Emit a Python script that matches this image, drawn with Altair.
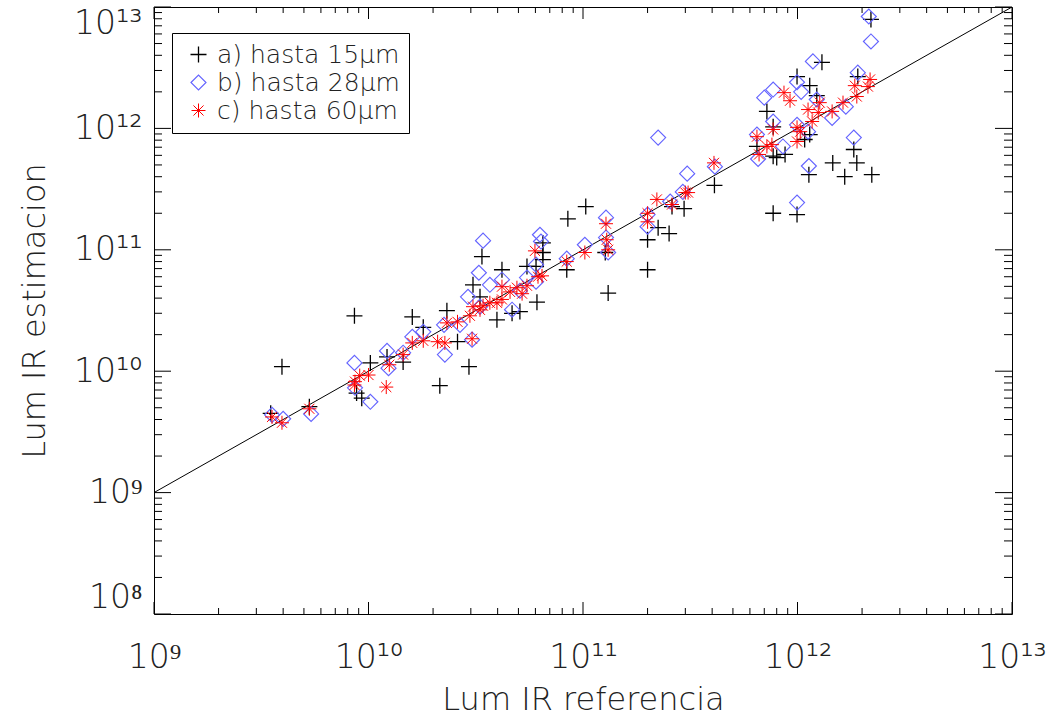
import json
import altair as alt
import pandas as pd

# ---------------- data ----------------
series_names = ["a) hasta 15μm", "b) hasta 28μm", "c) hasta 60μm"]
series_colors = ["#000000", "#6464ff", "#ff0000"]

# (Lum IR referencia, Lum IR estimacion)
a_points = [
    (3.5e9, 4.5e9), (3.95e9, 1.09e10), (5.3e9, 5.1e9), (8.6e9, 2.86e10), (8.8e9, 6.6e9),
    (9.3e9, 6.0e9), (1.02e10, 1.17e10), (1.22e10, 1.31e10), (1.45e10, 1.19e10), (1.6e10, 2.8e10),
    (1.8e10, 2.3e10), (2.15e10, 7.6e9), (2.32e10, 3.15e10), (2.6e10, 1.75e10), (2.94e10, 1.09e10),
    (3.07e10, 5.15e10), (3.31e10, 4.1e10), (3.38e10, 8.8e10), (3.97e10, 2.65e10), (4.19e10, 6.85e10),
    (4.67e10, 3.0e10), (5.08e10, 3.1e10), (5.48e10, 7.3e10), (6.04e10, 7.3e10), (6.1e10, 3.7e10),
    (6.5e10, 1.14e11), (6.5e10, 9.5e10), (6.5e10, 8.3e10), (8.4e10, 6.85e10), (8.5e10, 1.8e11),
    (1.03e11, 2.27e11), (1.27e11, 9.5e10), (1.31e11, 4.4e10), (2.0e11, 1.21e11), (2.0e11, 6.85e10),
    (2.24e11, 1.52e11), (2.52e11, 1.36e11), (2.6e11, 2.27e11), (2.96e11, 2.18e11), (4.1e11, 3.4e11),
    (6.47e11, 7.1e11), (7.2e11, 1.38e12), (7.7e11, 1.03e12), (7.7e11, 5.9e11), (8.0e11, 5.75e11),
    (8.75e11, 6.1e11), (7.7e11, 2.0e11), (9.95e11, 1.95e11), (9.95e11, 2.67e12), (1.08e12, 8.1e11),
    (1.13e12, 4.16e11), (1.14e12, 8.9e11), (1.14e12, 2.25e12), (1.23e12, 1.86e12), (1.3e12, 3.5e12),
    (1.46e12, 5.2e11), (1.66e12, 4.0e11), (1.83e12, 6.7e11), (1.89e12, 5.2e11), (1.91e12, 2.67e12),
    (2.2e12, 7.9e12), (2.22e12, 4.16e11),
]
b_points = [
    (3.55e9, 4.37e9), (4.0e9, 4.05e9), (5.4e9, 4.45e9), (8.6e9, 1.17e10), (8.65e9, 7.3e9),
    (1.02e10, 5.6e9), (1.22e10, 1.47e10), (1.24e10, 1.06e10), (1.45e10, 1.42e10), (1.6e10, 1.92e10),
    (1.8e10, 2.11e10), (2.25e10, 2.41e10), (2.27e10, 1.37e10), (2.67e10, 2.41e10), (2.91e10, 4.1e10),
    (3.04e10, 1.82e10), (3.27e10, 6.47e10), (3.31e10, 3.4e10), (3.42e10, 1.19e11), (3.68e10, 5.15e10),
    (4.19e10, 5.67e10), (4.67e10, 3.21e10), (5.08e10, 4.6e10), (5.48e10, 5.9e10), (6.04e10, 7.54e10),
    (6.04e10, 5.46e10), (6.3e10, 1.33e11), (6.37e10, 1.17e11), (8.4e10, 8.45e10), (1.02e11, 1.1e11),
    (1.28e11, 1.84e11), (1.28e11, 1.26e11), (1.31e11, 9.5e10), (2.0e11, 1.55e11), (2.0e11, 1.95e11),
    (2.24e11, 8.4e11), (2.55e11, 2.5e11), (2.92e11, 3.0e11), (3.06e11, 4.24e11), (4.12e11, 4.84e11),
    (6.47e11, 8.9e11), (6.55e11, 5.6e11), (7.0e11, 1.79e12), (7.7e11, 2.09e12), (7.7e11, 1.14e12),
    (8.55e11, 7.1e11), (9.95e11, 2.4e12), (9.95e11, 1.07e12), (9.95e11, 2.45e11), (1.04e12, 2.0e12),
    (1.12e12, 9.4e11), (1.13e12, 4.9e11), (1.18e12, 3.56e12), (1.23e12, 1.73e12), (1.45e12, 1.22e12),
    (1.68e12, 1.51e12), (1.83e12, 8.4e11), (1.91e12, 2.88e12), (2.15e12, 8.35e12), (2.2e12, 5.2e12),
]
c_points = [
    (3.55e9, 4.2e9), (3.95e9, 3.76e9), (5.3e9, 4.9e9), (8.6e9, 7.7e9), (8.65e9, 8.2e9),
    (9.1e9, 9.2e9), (1.0e10, 9.3e9), (1.21e10, 7.4e9), (1.25e10, 1.13e10), (1.45e10, 1.37e10),
    (1.6e10, 1.71e10), (1.8e10, 1.78e10), (2.1e10, 1.75e10), (2.27e10, 1.71e10), (2.32e10, 2.5e10),
    (2.6e10, 2.55e10), (2.97e10, 2.86e10), (3.04e10, 1.85e10), (3.07e10, 3.4e10), (3.31e10, 3.2e10),
    (3.42e10, 3.46e10), (3.68e10, 3.66e10), (3.97e10, 3.66e10), (4.19e10, 4.97e10), (4.19e10, 3.9e10),
    (4.57e10, 4.5e10), (4.92e10, 4.87e10), (5.2e10, 4.35e10), (5.48e10, 5.06e10), (5.97e10, 9.8e10),
    (6.17e10, 6.0e10), (6.44e10, 6.1e10), (8.4e10, 8.0e10), (1.02e11, 9.5e10), (1.28e11, 1.64e11),
    (1.29e11, 1.21e11), (1.31e11, 1.0e11), (2.0e11, 2.0e11), (2.0e11, 1.7e11), (2.21e11, 2.6e11),
    (2.6e11, 2.36e11), (3.0e11, 2.96e11), (3.09e11, 2.96e11), (4.08e11, 5.2e11), (6.47e11, 8.55e11),
    (6.62e11, 6.1e11), (7.2e11, 7.1e11), (7.6e11, 7.35e11), (7.7e11, 9.8e11), (8.65e11, 1.97e12),
    (9.23e11, 1.69e12), (9.95e11, 1.02e12), (1.03e12, 9.4e11), (9.95e11, 7.8e11), (1.17e12, 1.14e12),
    (1.12e12, 1.43e12), (1.25e12, 1.35e12), (1.27e12, 1.63e12), (1.45e12, 1.38e12), (1.63e12, 1.63e12),
    (1.85e12, 2.25e12), (1.89e12, 1.83e12), (2.13e12, 2.21e12), (2.18e12, 2.53e12),
]

# one-to-one line
line_vals = [1e9, 1e13]

# axes
x_domain = [1e9, 1e13]
y_domain = [1e8, 1e13]
x_major = [1e9, 1e10, 1e11, 1e12, 1e13]
y_major = [1e8, 1e9, 1e10, 1e11, 1e12, 1e13]
x_tick_labels = ["10⁹", "10¹⁰", "10¹¹", "10¹²", "10¹³"]
y_tick_labels = ["10⁸", "10⁹", "10¹⁰", "10¹¹", "10¹²", "10¹³"]
minor_mult = [2, 3, 4, 5, 6, 7, 8, 9]
x_minor = [m * d for d in x_major[:-1] for m in minor_mult]
y_minor = [m * d for d in y_major[:-1] for m in minor_mult]

# ---------------- chart ----------------
W, H = 858, 607
FONT = "DejaVu Sans"
WEIGHT = 200
TXT = "#222222"

rows = []
for name, pts in zip(series_names, [a_points, b_points, c_points]):
    for xv, yv in pts:
        rows.append({"ref": xv, "est": yv, "serie": name})
df = pd.DataFrame(rows)

xscale = alt.Scale(type="log", domain=x_domain, nice=False)
yscale = alt.Scale(type="log", domain=y_domain, nice=False)

plus_path = "M-1,0H1M0,-1V1"
star_path = "M-1,0H1M0,-1V1M-0.72,-0.72L0.72,0.72M-0.72,0.72L0.72,-0.72"

x_label_expr = json.dumps(x_tick_labels, ensure_ascii=False) + "[round(log(datum.value)/LN10) - 9]"
y_label_expr = json.dumps(y_tick_labels, ensure_ascii=False) + "[round(log(datum.value)/LN10) - 8]"

xaxis = alt.Axis(
    values=x_major, labelExpr=x_label_expr, ticks=False, tickSize=0, domain=False, grid=False,
    labelFont=FONT, labelFontSize=33, labelFontWeight=WEIGHT, labelColor=TXT,
    labelBaseline="alphabetic", labelPadding=53, labelFlush=False,
    title="Lum IR referencia", titleFont=FONT, titleFontSize=32, titleFontWeight=WEIGHT,
    titleColor=TXT, titleX=W / 2, titleY=95, titleBaseline="alphabetic", titleAlign="center",
)
yaxis = alt.Axis(
    values=y_major, labelExpr=y_label_expr, ticks=False, tickSize=0, domain=False, grid=False,
    labelFont=FONT, labelFontSize=33, labelFontWeight=WEIGHT, labelColor=TXT,
    labelPadding=12, labelFlush=True, labelFlushOffset=0,
    title="Lum IR estimacion", titleFont=FONT, titleFontSize=32, titleFontWeight=WEIGHT,
    titleColor=TXT, titleX=-110, titleY=H / 2, titleAngle=270, titleBaseline="alphabetic",
    titleAlign="center",
)

legend = alt.Legend(
    title=None, orient="none", legendX=18, legendY=26,
    strokeColor="black", fillColor="white", padding=9, cornerRadius=0,
    labelFont=FONT, labelFontSize=25, labelFontWeight=WEIGHT, labelColor=TXT, labelLimit=400,
    symbolSize=200, symbolStrokeWidth=1.3, rowPadding=2, symbolOffset=5, labelOffset=6,
)

points = alt.Chart(df).mark_point(filled=False, opacity=1).encode(
    x=alt.X("ref:Q", scale=xscale, axis=xaxis),
    y=alt.Y("est:Q", scale=yscale, axis=yaxis),
    color=alt.Color("serie:N", scale=alt.Scale(domain=series_names, range=series_colors), legend=legend),
    shape=alt.Shape("serie:N", scale=alt.Scale(domain=series_names, range=[plus_path, "diamond", star_path]), legend=legend),
    size=alt.Size("serie:N", scale=alt.Scale(domain=series_names, range=[256, 196, 200]), legend=None),
    strokeWidth=alt.StrokeWidth("serie:N", scale=alt.Scale(domain=series_names, range=[1.3, 1.0, 1.4]), legend=None),
)

line = alt.Chart(pd.DataFrame({"ref": line_vals, "est": line_vals})).mark_line(
    color="black", strokeWidth=1, clip=True
).encode(
    x=alt.X("ref:Q", scale=xscale, axis=xaxis),
    y=alt.Y("est:Q", scale=yscale, axis=yaxis),
)


def tick_layer(vals, side, length):
    d = pd.DataFrame({"v": vals})
    if side == "left":
        enc = dict(y=alt.Y("v:Q", scale=yscale, axis=yaxis), x=alt.value(0), x2=alt.value(length))
    elif side == "right":
        enc = dict(y=alt.Y("v:Q", scale=yscale, axis=yaxis), x=alt.value(W - length), x2=alt.value(W))
    elif side == "bottom":
        enc = dict(x=alt.X("v:Q", scale=xscale, axis=xaxis), y=alt.value(H - length), y2=alt.value(H))
    else:
        enc = dict(x=alt.X("v:Q", scale=xscale, axis=xaxis), y=alt.value(0), y2=alt.value(length))
    return alt.Chart(d).mark_rule(color="black", strokeWidth=1).encode(**enc)


ticks = [
    tick_layer(y_major, "left", 17), tick_layer(y_minor, "left", 8),
    tick_layer(y_major, "right", 17), tick_layer(y_minor, "right", 8),
    tick_layer(x_major, "bottom", 12), tick_layer(x_minor, "bottom", 6),
    tick_layer(x_major, "top", 12), tick_layer(x_minor, "top", 6),
]

chart = alt.layer(*ticks, line, points).properties(
    width=W, height=H,
    padding={"left": 154, "top": 7, "right": 43, "bottom": 102},
    autosize=alt.AutoSizeParams(type="none"),
    background="white",
).configure_view(stroke="black", strokeWidth=1)

chart.save("out.html", embed_options={"renderer": "svg", "actions": False})
